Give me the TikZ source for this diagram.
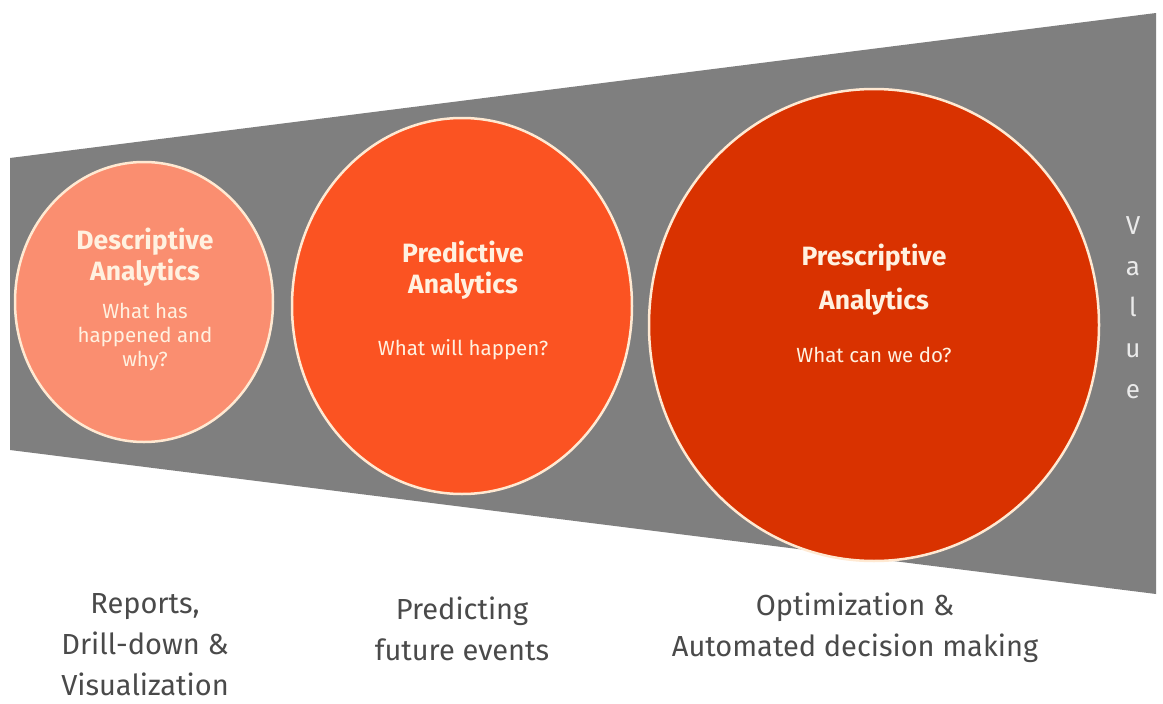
\documentclass[tikz,border=0pt]{standalone}
\usepackage{fontspec}
\setmainfont{Fira Sans}
\usetikzlibrary{shapes.geometric}
\definecolor{funnelgray}{HTML}{7F7F7F}
\definecolor{desccol}{HTML}{FA8E70}
\definecolor{predcol}{HTML}{FB5322}
\definecolor{prescol}{HTML}{D93200}
\definecolor{rimcol}{HTML}{FFE9D2}
\definecolor{intext}{HTML}{FFF1E0}
\definecolor{lowtext}{HTML}{4A4A4A}
\definecolor{valtext}{HTML}{EAEAEA}
\tikzset{
  bubble/.style={ellipse, draw=rimcol, line width=2.5pt, inner sep=0pt},
  titletext/.style={text=intext, align=center, font=\fontsize{26.5}{31}\selectfont\bfseries},
  subtext/.style={text=intext, align=center, font=\fontsize{20.5}{24}\selectfont},
  lowlabel/.style={text=lowtext, align=center, inner sep=0pt, font=\fontsize{29}{41}\selectfont},
  valuetext/.style={text=valtext, align=center, font=\fontsize{26}{41}\selectfont}
}
\begin{document}
\begin{tikzpicture}[x=1pt,y=-1pt]
\useasboundingbox (0,0) rectangle (1163,704);
\fill[white] (0,0) rectangle (1163,704);
\coordinate (tl) at (10,158);
\coordinate (tr) at (1156,13);
\coordinate (br) at (1156,594);
\coordinate (bl) at (10,450);
\fill[funnelgray] (tl) -- (tr) -- (br) -- (bl) -- cycle;

\node[bubble, fill=desccol, minimum width=258pt, minimum height=280pt] (desc) at (144,302) {};
\node[bubble, fill=predcol, minimum width=340pt, minimum height=376pt] (pred) at (462,306) {};
\node[bubble, fill=prescol, minimum width=450pt, minimum height=472pt] (pres) at (874,325) {};

\node[titletext] (desct) at (145,257) {Descriptive\\Analytics};
\node[subtext] (descs) at (145,337) {What has\\happened and\\why?};
\node[titletext] (predt) at (463,270) {Predictive\\Analytics};
\node[subtext] (preds) at (463,350) {What will happen?};
\node[titletext, font=\fontsize{26.5}{44}\selectfont\bfseries] (prest) at (874,280) {Prescriptive\\Analytics};
\node[subtext] (press) at (874,355) {What can we do?};

\node[valuetext] (val) at (1133,308) {V\\a\\l\\u\\e};

\node[lowlabel] (l1) at (145,645) {Reports,\\Drill-down \&\\Visualization};
\node[lowlabel] (l2) at (462,629) {Predicting\\future events};
\node[lowlabel] (l3) at (855,628) {Optimization \&\\Automated decision making};
\end{tikzpicture}
\end{document}
